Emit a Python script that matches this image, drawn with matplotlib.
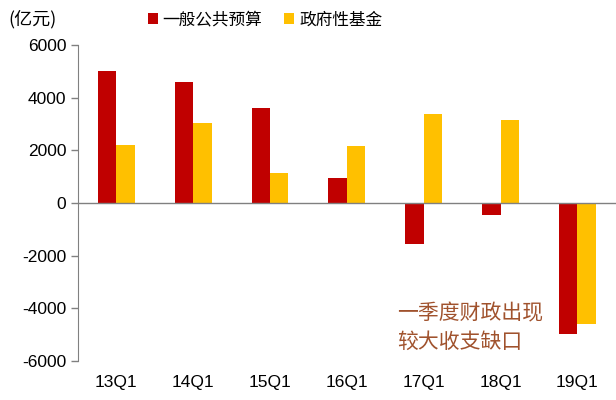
import matplotlib
matplotlib.use("Agg")
import matplotlib.pyplot as plt
import numpy as np

categories = ["13Q1", "14Q1", "15Q1", "16Q1", "17Q1", "18Q1", "19Q1"]
general_budget = [5000, 4600, 3600, 950, -1560, -450, -4980]
gov_fund = [2200, 3040, 1150, 2170, 3380, 3150, -4600]
series_names = ["一般公共预算", "政府性基金"]
yticks = [-6000, -4000, -2000, 0, 2000, 4000, 6000]

plt.rcParams['font.family'] = ['Noto Sans CJK SC', 'DejaVu Sans']

fig = plt.figure(figsize=(6.16, 4.0), dpi=100)
ax = fig.add_axes([0.1266, 0.0975, 0.873, 0.79])

x = np.arange(len(categories))
w = 0.24
red = '#C00000'
yellow = '#FFC000'
ax.bar(x - w/2, general_budget, w, color=red, label=series_names[0])
ax.bar(x + w/2, gov_fund, w, color=yellow, label=series_names[1])

ax.set_xlim(-0.5, 6.5)
ax.set_ylim(-6000, 6000)
ax.set_yticks(yticks)
ax.set_yticklabels([str(v) for v in yticks], family='Liberation Sans', fontsize=12.5)
ax.set_xticks(x)
ax.set_xticklabels(categories, family='Liberation Sans', fontsize=12.5)
ax.tick_params(axis='x', length=0, pad=10)
ax.tick_params(axis='y', length=5, direction='out', color='#808080', width=1)

for s in ['top', 'right', 'bottom']:
    ax.spines[s].set_visible(False)
ax.spines['left'].set_color('#808080')
ax.axhline(0, color='#808080', lw=1)

fig.text(0.013, 0.952, "(亿元)", fontsize=13, va='center', ha='left')

leg = fig.legend(loc='center', bbox_to_anchor=(0.43, 0.95), ncol=2, frameon=False,
                 fontsize=12, handlelength=0.6, handleheight=0.6, handletextpad=0.3,
                 columnspacing=1.3)

ax.text(0.593, 0.106, "一季度财政出现\n较大收支缺口", transform=ax.transAxes,
        fontsize=15, color='#A0522D', ha='left', va='center', linespacing=1.35)

fig.savefig("out.png", dpi=100)
